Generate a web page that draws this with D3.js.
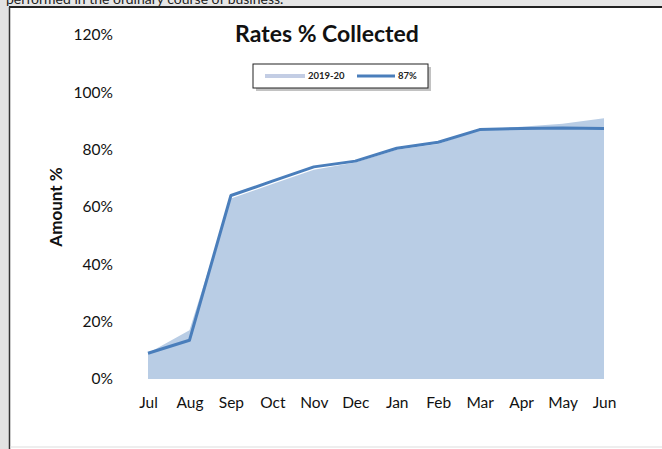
<html>
<head>
<script src="https://cdnjs.cloudflare.com/ajax/libs/d3/7.8.5/d3.min.js"></script>
</head>
<body style="margin: 0; background: #fff;">
</body>
<script>
// chart data
var months = ["Jul", "Aug", "Sep", "Oct", "Nov", "Dec", "Jan", "Feb", "Mar", "Apr", "May", "Jun"]
var prior = [0.09, 0.17, 0.63, 0.68, 0.73, 0.755, 0.80, 0.82, 0.87, 0.88, 0.89, 0.91]   // 2019-20 area
var current = [0.09, 0.135, 0.64, 0.69, 0.74, 0.76, 0.805, 0.826, 0.87, 0.874, 0.876, 0.874] // 87% line
var yTicks = [0, 0.2, 0.4, 0.6, 0.8, 1.0, 1.2]
var legendNames = ["2019-20", "87%"]

var W = 662, H = 449
var font = "Lato, 'Open Sans', sans-serif"

var svg = d3.select("body").append("svg")
  .attr("width", W).attr("height", H)
  .style("display", "block")

// sheet bits around the chart object
svg.append("rect").attr("x", 0).attr("y", 0).attr("width", W).attr("height", 7).attr("fill", "#e6e6e6")
svg.append("rect").attr("x", 0).attr("y", 0).attr("width", 9).attr("height", H).attr("fill", "#e2e2e2")
svg.append("text")
  .attr("x", 6).attr("y", 4)
  .style("font", "14px " + font)
  .attr("fill", "#222")
  .text("performed in the ordinary course of business.")
svg.append("line").attr("x1", 9).attr("x2", W).attr("y1", 7).attr("y2", 7).attr("stroke", "#222").attr("stroke-width", 2)
svg.append("line").attr("x1", 9.5).attr("x2", 9.5).attr("y1", 7).attr("y2", H).attr("stroke", "#333").attr("stroke-width", 1.5)
svg.append("line").attr("x1", 10).attr("x2", W).attr("y1", 447).attr("y2", 447).attr("stroke", "#ddd").attr("stroke-width", 1)

var x = d3.scalePoint().domain(months).range([148, 604])
var y = d3.scaleLinear().domain([0, 1.2]).range([379, 35])

var area = d3.area()
  .x((d, i) => x(months[i]))
  .y0(y(0))
  .y1(d => y(d))

svg.append("path")
  .datum(prior)
  .attr("d", area)
  .attr("fill", "#b9cde5")

var line = d3.line()
  .x((d, i) => x(months[i]))
  .y(d => y(d))

svg.append("path")
  .datum(current)
  .attr("d", line)
  .attr("fill", "none")
  .attr("stroke", "#4a7ebb")
  .attr("stroke-width", 3)
  .attr("stroke-linejoin", "round")

// y axis
var yAxis = svg.append("g")
  .attr("transform", "translate(113,0)")
  .call(d3.axisLeft(y).tickValues(yTicks).tickFormat(d3.format(".0%")).tickSize(0).tickPadding(0))
yAxis.select(".domain").remove()
yAxis.selectAll("text")
  .style("font", "15.5px " + font)
  .attr("fill", "#111")

// x axis
var xAxis = svg.append("g")
  .attr("transform", "translate(0,397)")
  .call(d3.axisBottom(x).tickSize(0).tickPadding(0))
xAxis.select(".domain").remove()
xAxis.selectAll("text")
  .style("font", "15.5px " + font)
  .attr("fill", "#111")

// titles
svg.append("text")
  .attr("x", 327).attr("y", 42)
  .attr("text-anchor", "middle")
  .style("font", "bold 23px " + font)
  .attr("fill", "#111")
  .text("Rates % Collected")

svg.append("text")
  .attr("transform", "translate(62,207) rotate(-90)")
  .attr("text-anchor", "middle")
  .style("font", "bold 17px " + font)
  .attr("fill", "#111")
  .text("Amount %")

// legend
var lg = svg.append("g").attr("transform", "translate(253,64)")
lg.append("rect").attr("x", 3).attr("y", 3).attr("width", 175).attr("height", 24).attr("fill", "#999").attr("opacity", 0.6)
lg.append("rect").attr("x", 0).attr("y", 0).attr("width", 175).attr("height", 24).attr("fill", "#fff").attr("stroke", "#222").attr("stroke-width", 1)
lg.append("line").attr("x1", 12).attr("x2", 52).attr("y1", 12).attr("y2", 12).attr("stroke", "#c3cde4").attr("stroke-width", 4)
lg.append("text").attr("x", 55).attr("y", 15).style("font", "bold 9.5px " + font).attr("fill", "#222").text(legendNames[0])
lg.append("line").attr("x1", 104).attr("x2", 142).attr("y1", 12).attr("y2", 12).attr("stroke", "#4a7ebb").attr("stroke-width", 3)
lg.append("text").attr("x", 145).attr("y", 15).style("font", "bold 9.5px " + font).attr("fill", "#222").text(legendNames[1])
</script>
</html>
